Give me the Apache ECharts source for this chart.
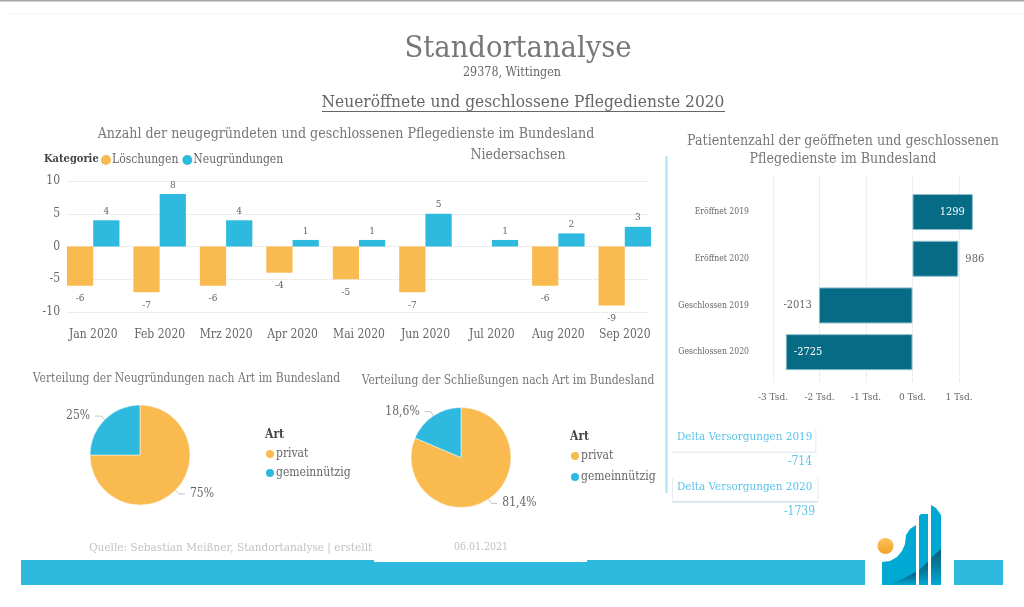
<!DOCTYPE html>
<html lang="de">
<head>
    <meta charset="UTF-8">
    <title>Standortanalyse</title>
    <script src="https://cdn.jsdelivr.net/npm/echarts@6/dist/echarts.min.js"></script>
    <style>
        html, body { margin: 0; padding: 0; background: #fff; }
        #container { width: 1024px; height: 607px; }
    </style>
</head>
<body>
<div id="container"></div>
<script>
    // Daten
    var months = ['Jan 2020', 'Feb 2020', 'Mrz 2020', 'Apr 2020', 'Mai 2020', 'Jun 2020', 'Jul 2020', 'Aug 2020', 'Sep 2020'];
    var loeschungen = [-6, -7, -6, -4, -5, -7, null, -6, -9];
    var neugruendungen = [4, 8, 4, 1, 1, 5, 1, 2, 3];

    var patientCategories = ['Eröffnet 2019', 'Eröffnet 2020', 'Geschlossen 2019', 'Geschlossen 2020'];
    var patientValues = [1299, 986, -2013, -2725];

    var artNames = ['privat', 'gemeinnützig'];
    var neuShares = [75, 25];
    var schliessShares = [81.4, 18.6];

    var FONT = '"DejaVu Serif Condensed", "DejaVu Serif", serif';
    var ORANGE = '#f9bb4f';
    var BLUE = '#2eb9df';
    var TEAL = '#066b85';
    var GREY = '#666666';

    var chart = echarts.init(document.getElementById('container'));

    function text(str, x, y, size, fill, align, weight)
    {
        return {
            type: 'text',
            silent: true,
            style: {
                text: str, x: x, y: y + 1,
                fill: fill,
                align: align || 'center',
                verticalAlign: 'middle',
                font: (weight || 'normal') + ' ' + size + 'px ' + FONT
            }
        };
    }

    function rect(x, y, w, h, fill)
    {
        return { type: 'rect', silent: true, shape: { x: x, y: y, width: w, height: h }, style: { fill: fill } };
    }

    function poly(points, fill)
    {
        return { type: 'polygon', silent: true, shape: { points: points }, style: { fill: fill } };
    }

    function pieSeries(name, center, shares)
    {
        return {
            name: name,
            type: 'pie',
            center: center,
            radius: 50,
            itemStyle: { borderColor: '#ffffff', borderWidth: 0.5 },
            label: {
                fontFamily: FONT, fontSize: 12, color: GREY,
                formatter: function (p)
                {
                    return String(p.value).replace('.', ',') + '%';
                }
            },
            labelLine: { length: 5, length2: 6, lineStyle: { color: '#c4c4c4', width: 1 } },
            data: shares.map(function (v, i)
            {
                return { name: artNames[i], value: v, itemStyle: { color: i === 0 ? ORANGE : BLUE } };
            })
        };
    }

    function artLegend(left, top, gap)
    {
        return {
            orient: 'vertical', left: left, top: top, data: artNames,
            icon: 'circle', itemWidth: 10, itemHeight: 10, itemGap: gap,
            selectedMode: false,
            textStyle: { fontFamily: FONT, fontSize: 12, color: GREY, padding: [0, 0, 0, -4] }
        };
    }

    // Label-Lage je Balken im Patientendiagramm
    var patientLabelPlace = [
        { position: 'insideRight', distance: 8, color: '#ffffff' },
        { position: 'right', distance: 7, color: GREY },
        { position: 'left', distance: 7, color: GREY },
        { position: 'insideLeft', distance: 8, color: '#ffffff' }
    ];

    var dark = new echarts.graphic.LinearGradient(0, 0, 0, 1, [
        { offset: 0, color: '#0b5a78' },
        { offset: 1, color: '#00a9d4' }
    ]);

    var decor = [
        rect(0, 0, 1024, 1.5, '#a8a8a8'),
        rect(10, 13.5, 1014, 1, '#f2f2f2'),

        text('Standortanalyse', 518, 48, 30.5, '#777777'),
        text('29378, Wittingen', 512, 72, 12.4, GREY),
        text('Neueröffnete und geschlossene Pflegedienste 2020', 523, 102, 17.2, GREY),
        rect(322, 111, 403, 1, GREY),

        text('Anzahl der neugegründeten und geschlossenen Pflegedienste im Bundesland', 346, 133, 14.1, '#777777'),
        text('Niedersachsen', 518, 154, 14, '#777777'),
        text('Kategorie', 44, 158, 11, '#444444', 'left', 'bold'),

        text('Patientenzahl der geöffneten und geschlossenen', 843, 140, 14.1, '#777777'),
        text('Pflegedienste im Bundesland', 843, 158, 14.1, '#777777'),

        text('Verteilung der Neugründungen nach Art im Bundesland', 186.5, 378, 12, '#777777'),
        text('Verteilung der Schließungen nach Art im Bundesland', 508, 380, 12, '#777777'),
        text('Art', 265, 434, 12, '#444444', 'left', 'bold'),
        text('Art', 570, 436, 12, '#444444', 'left', 'bold'),

        rect(665.5, 156, 2, 337, '#a9e3f2'),

        // Delta-Karten
        rect(672, 451.5, 144, 1.5, '#e6eef2'),
        rect(815, 429, 1.5, 24, '#eef2f5'),
        text('Delta Versorgungen 2019', 677, 436, 11.6, '#5bc4e8', 'left'),
        text('-714', 812, 461, 12, '#5bc4e8', 'right'),
        rect(672, 501, 146, 1.5, '#cfe3ea'),
        rect(672, 478, 1, 24, '#e6eef2'),
        rect(817, 478, 1.5, 24, '#eef2f5'),
        text('Delta Versorgungen 2020', 677, 486, 11.6, '#5bc4e8', 'left'),
        text('-1739', 815, 511, 12, '#5bc4e8', 'right'),

        // Fusszeile
        text('Quelle: Sebastian Meißner, Standortanalyse | erstellt', 89, 546.5, 11.7, '#c2c2c2', 'left'),
        text('06.01.2021', 454, 546.5, 10.5, '#c2c2c2', 'left'),
        rect(21, 560, 844, 25, BLUE),
        rect(374, 558, 213, 4, '#ffffff'),
        rect(954, 560, 49, 25, BLUE),

        // Logo
        poly([[882, 562], [890, 561], [897, 557], [902, 551], [905, 544], [906, 535], [910, 529], [916, 525], [916, 585], [882, 585]], '#00a9d4'),
        poly([[919, 516], [921, 514], [928, 514], [928, 585], [919, 585]], '#00a9d4'),
        poly([[931, 505], [936, 508], [941, 515], [941, 585], [931, 585]], '#00a9d4'),
        poly([[888, 585], [900, 580], [916, 572], [916, 585]], dark),
        poly([[919, 570], [928, 562], [928, 585], [919, 585]], dark),
        poly([[931, 558], [941, 549], [941, 585], [931, 585]], dark),
        {
            type: 'circle', silent: true,
            shape: { cx: 885.5, cy: 546, r: 8 },
            style: {
                fill: new echarts.graphic.LinearGradient(0, 0, 0, 1, [
                    { offset: 0, color: '#fbc25a' },
                    { offset: 1, color: '#f2a22a' }
                ])
            }
        }
    ];

    var option = {
        animation: false,
        backgroundColor: '#ffffff',
        textStyle: { fontFamily: FONT },
        graphic: { elements: decor },
        legend: [
            {
                left: 96, top: 149,
                data: ['Löschungen', 'Neugründungen'],
                icon: 'circle', itemWidth: 10, itemHeight: 10, itemGap: 4,
                selectedMode: false,
                textStyle: { fontFamily: FONT, fontSize: 12, color: GREY, padding: [0, 0, 0, -4] }
            },
            artLegend(259, 443, 7),
            artLegend(564, 445, 9)
        ],
        grid: [
            { left: 60, top: 181, width: 598, height: 131 },
            { left: 67, top: 181, width: 581, height: 131 },
            { left: 773, top: 188.7, width: 209.25, height: 186.8 },
            { left: 773, top: 177, width: 209.25, height: 206 }
        ],
        xAxis: [
            {
                gridIndex: 0, type: 'category', data: months,
                axisLine: { show: false }, axisTick: { show: false },
                axisLabel: { interval: 0, margin: 17, fontSize: 12, color: GREY, fontFamily: FONT }
            },
            { gridIndex: 1, type: 'value', show: false, min: 0, max: 1 },
            { gridIndex: 2, type: 'value', show: false, min: -3000, max: 1500, interval: 1000 },
            {
                gridIndex: 3, type: 'value', min: -3000, max: 1500, interval: 1000,
                axisLine: { show: false }, axisTick: { show: false },
                splitLine: { showMaxLine: false, lineStyle: { type: 'dotted', color: '#dcdcdc' } },
                axisLabel: {
                    showMaxLabel: false, margin: 9, fontSize: 10, color: GREY, fontFamily: FONT,
                    formatter: function (v)
                    {
                        return v / 1000 + ' Tsd.';
                    }
                }
            }
        ],
        yAxis: [
            { gridIndex: 0, type: 'value', show: false, min: -10, max: 10 },
            {
                gridIndex: 1, type: 'value', min: -10, max: 10, interval: 5,
                axisLine: { show: false }, axisTick: { show: false },
                splitLine: { lineStyle: { type: 'dotted', color: '#dcdcdc' } },
                axisLabel: { margin: 7, fontSize: 12, color: GREY, fontFamily: FONT }
            },
            {
                gridIndex: 2, type: 'category', inverse: true, data: patientCategories,
                axisLine: { show: false }, axisTick: { show: false },
                axisLabel: { margin: 24, fontSize: 8.6, color: GREY, fontFamily: FONT, padding: [2, 0, 0, 0] }
            },
            { gridIndex: 3, type: 'value', show: false, min: 0, max: 1 }
        ],
        series: [
            {
                name: 'Löschungen', type: 'bar', xAxisIndex: 0, yAxisIndex: 0,
                data: loeschungen, barGap: 0, barCategoryGap: '21%',
                itemStyle: { color: ORANGE },
                label: { show: true, position: 'bottom', distance: 8, fontSize: 10, color: GREY, fontFamily: FONT }
            },
            {
                name: 'Neugründungen', type: 'bar', xAxisIndex: 0, yAxisIndex: 0,
                data: neugruendungen,
                itemStyle: { color: BLUE },
                label: { show: true, position: 'top', distance: 4, fontSize: 10, color: GREY, fontFamily: FONT }
            },
            {
                name: 'Patientenzahl', type: 'bar', xAxisIndex: 2, yAxisIndex: 2,
                barWidth: 36,
                itemStyle: { color: TEAL, borderColor: '#8dbccb', borderWidth: 1 },
                label: { show: true, fontSize: 11, fontFamily: FONT },
                data: patientValues.map(function (v, i)
                {
                    return { value: v, label: patientLabelPlace[i] };
                })
            },
            pieSeries('Neugründungen nach Art', [140, 455], neuShares),
            pieSeries('Schließungen nach Art', [461, 457.5], schliessShares)
        ]
    };

    chart.setOption(option);
</script>
</body>
</html>
